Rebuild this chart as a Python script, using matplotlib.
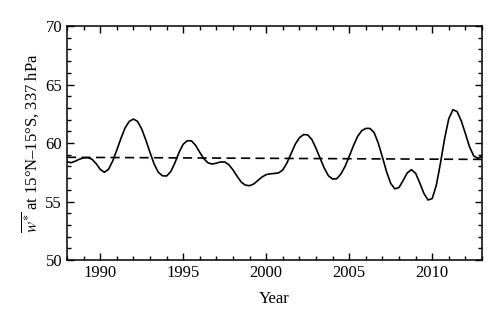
import matplotlib
matplotlib.use("Agg")
import matplotlib.pyplot as plt
from matplotlib.ticker import MultipleLocator

plt.rcParams['font.family'] = ['Liberation Serif', 'DejaVu Serif']
plt.rcParams['mathtext.fontset'] = 'stix'

years = [1988.00, 1988.25, 1988.50, 1988.75, 1989.00, 1989.25, 1989.50, 1989.75,
         1990.00, 1990.25, 1990.50, 1990.75, 1991.00, 1991.25, 1991.50, 1991.75,
         1992.00, 1992.25, 1992.50, 1992.75, 1993.00, 1993.25, 1993.50, 1993.75,
         1994.00, 1994.25, 1994.50, 1994.75, 1995.00, 1995.25, 1995.50, 1995.75,
         1996.00, 1996.25, 1996.50, 1996.75, 1997.00, 1997.25, 1997.50, 1997.75,
         1998.00, 1998.25, 1998.50, 1998.75, 1999.00, 1999.25, 1999.50, 1999.75,
         2000.00, 2000.25, 2000.50, 2000.75, 2001.00, 2001.25, 2001.50, 2001.75,
         2002.00, 2002.25, 2002.50, 2002.75, 2003.00, 2003.25, 2003.50, 2003.75,
         2004.00, 2004.25, 2004.50, 2004.75, 2005.00, 2005.25, 2005.50, 2005.75,
         2006.00, 2006.25, 2006.50, 2006.75, 2007.00, 2007.25, 2007.50, 2007.75,
         2008.00, 2008.25, 2008.50, 2008.75, 2009.00, 2009.25, 2009.50, 2009.75,
         2010.00, 2010.25, 2010.50, 2010.75, 2011.00, 2011.25, 2011.50, 2011.75,
         2012.00, 2012.25, 2012.50, 2012.75, 2013.00]

w_star = [58.40, 58.32, 58.45, 58.62, 58.73, 58.75, 58.62, 58.25,
          57.75, 57.50, 57.75, 58.45, 59.40, 60.40, 61.30, 61.85,
          62.05, 61.85, 61.20, 60.25, 59.20, 58.20, 57.50, 57.20,
          57.18, 57.55, 58.30, 59.20, 59.90, 60.20, 60.18, 59.80,
          59.20, 58.65, 58.30, 58.20, 58.28, 58.38, 58.38, 58.15,
          57.70, 57.15, 56.65, 56.40, 56.35, 56.50, 56.80, 57.10,
          57.30, 57.37, 57.40, 57.45, 57.70, 58.30, 59.10, 59.90,
          60.45, 60.72, 60.70, 60.30, 59.55, 58.70, 57.85, 57.20,
          56.92, 56.95, 57.35, 58.00, 58.85, 59.75, 60.55, 61.05,
          61.25, 61.25, 60.90, 60.00, 58.80, 57.55, 56.55, 56.08,
          56.20, 56.80, 57.45, 57.72, 57.41, 56.60, 55.69, 55.13,
          55.25, 56.40, 58.30, 60.40, 62.09, 62.85, 62.69, 61.90,
          60.80, 59.67, 58.90, 58.70, 58.85]

trend_years = [1988.0, 2013.0]
trend_values = [58.78, 58.60]

xticks = [1990, 1995, 2000, 2005, 2010]
yticks = [50, 55, 60, 65, 70]

fig = plt.figure(figsize=(5.0, 3.26), dpi=100)
ax = fig.add_axes([0.134, 0.2025, 0.830, 0.7175])

ax.plot(years, w_star, color='black', lw=1.2, solid_joinstyle='round', solid_capstyle='round')
ax.plot(trend_years, trend_values, color='black', lw=1.2, linestyle=(0, (5.5, 3.2)))

ax.set_xlim(1988, 2013)
ax.set_ylim(50, 70)
ax.set_xticks(xticks)
ax.set_yticks(yticks)
ax.xaxis.set_minor_locator(MultipleLocator(1))
ax.yaxis.set_minor_locator(MultipleLocator(1))
ax.tick_params(which='both', direction='in', top=True, right=True, labelsize=12, width=1.0)
ax.tick_params(which='major', length=5)
ax.tick_params(which='minor', length=3)
for s in ax.spines.values():
    s.set_linewidth(1.1)

ax.set_xlabel('Year', fontsize=12, labelpad=7)
ax.set_ylabel(r'$\overline{w^{\ast}}$ at 15°N–15°S, 337 hPa', fontsize=12, labelpad=3)

fig.savefig('out.png', dpi=100)
